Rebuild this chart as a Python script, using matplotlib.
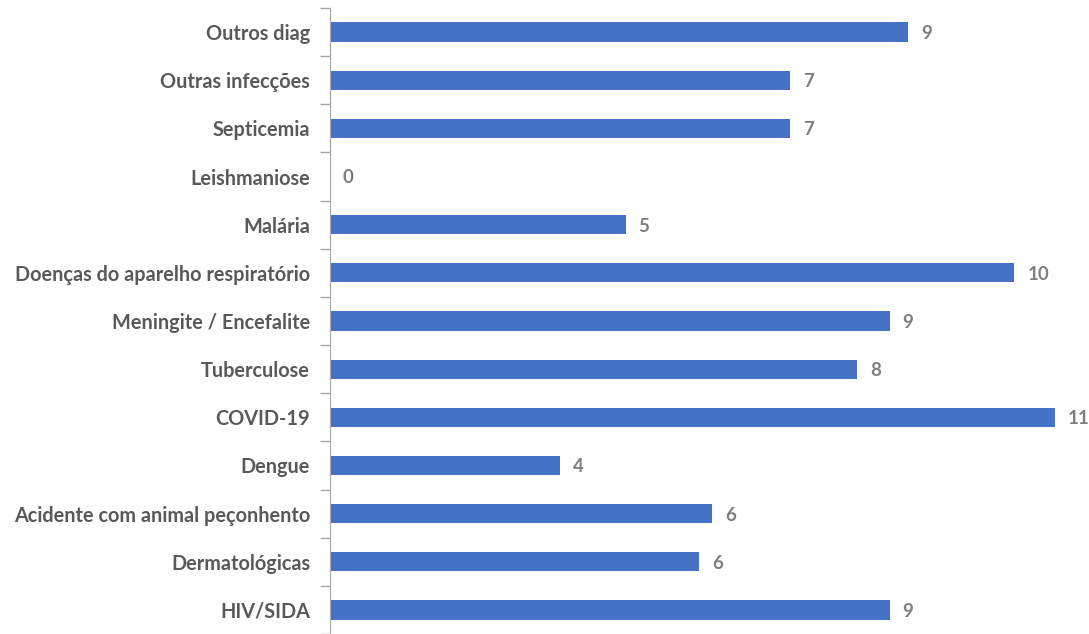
import matplotlib.pyplot as plt
import numpy as np

categories = ['Outros diag', 'Outras infecções', 'Septicemia', 'Leishmaniose', 'Malária',
              'Doenças do aparelho respiratório', 'Meningite / Encefalite', 'Tuberculose',
              'COVID-19', 'Dengue', 'Acidente com animal peçonhento', 'Dermatológicas', 'HIV/SIDA']
values = [8.86, 7.05, 7.05, 0, 4.53, 10.48, 8.57, 8.07, 11.10, 3.52, 5.85, 5.65, 8.57]

plt.rcParams['font.family'] = ['Lato', 'DejaVu Sans']

fig = plt.figure(figsize=(10.89, 6.34), dpi=100)
ax = fig.add_axes([329.5 / 1089, 0.0, 1 - 329.5 / 1089 - 8 / 1089, 1 - 8 / 634])

y = np.arange(len(categories))
ax.barh(y, values, height=0.4, color='#4472C4')
for yi, v in zip(y, values):
    ax.text(v + 0.2, yi + 0.03, f'{v:.0f}', va='center', ha='left', fontsize=13.5,
            fontweight='bold', color='#7F7F7F')

ax.set_ylim(len(categories) - 0.5, -0.5)
ax.set_xlim(0, 11.5)
ax.set_yticks(y)
ax.set_yticklabels(categories, fontsize=14.3, fontweight='bold', color='#595959')
ax.set_yticks(np.arange(len(categories) + 1) - 0.5, minor=True)
ax.tick_params(axis='y', which='major', length=0, pad=14)
ax.tick_params(axis='y', which='minor', length=7, color='#A6A6A6', width=1)
ax.set_xticks([])
for s in ['top', 'right', 'bottom']:
    ax.spines[s].set_visible(False)
ax.spines['left'].set_color('#A6A6A6')

fig.savefig('out.png', dpi=100)
